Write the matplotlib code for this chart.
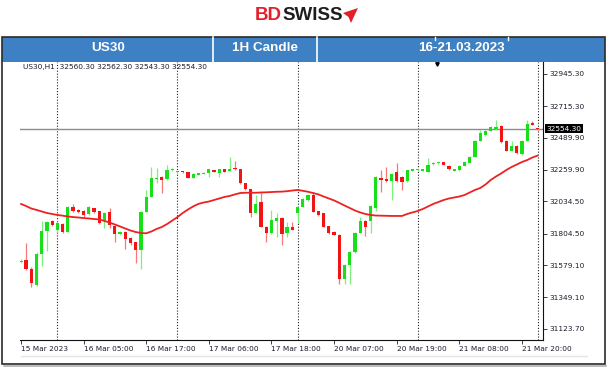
import matplotlib
matplotlib.use("Agg")
import matplotlib.pyplot as plt
from matplotlib.patches import Rectangle, Polygon
from matplotlib.lines import Line2D
import matplotlib.transforms as mtransforms

# ---------------- data ----------------
opens = [31604, 31615, 31554, 31436, 31656, 31822, 31896, 31830, 31872, 31817,
         31996, 31973, 31965, 31942, 31985, 31965, 31896, 31956, 31858, 31801,
         31817, 31772, 31742, 31689, 31960, 32068, 32194, 32211, 32192, 32259,
         32241, 32248, 32242, 32203, 32225, 32228, 32235, 32259, 32235, 32264,
         32252, 32268, 32264, 32164, 32121, 31953, 32028, 31853, 31806, 31896,
         31917, 31806, 31849, 31953, 31996, 32044, 32080, 31965, 31949, 31855,
         31817, 31797, 31476, 31579, 31669, 31808, 31897, 31897, 31987, 32199,
         32194, 32180, 32247, 32211, 32180, 32252, 32257, 32252, 32247, 32299,
         32307, 32314, 32287, 32254, 32259, 32287, 32311, 32354, 32469, 32509,
         32540, 32552, 32573, 32469, 32395, 32433, 32371, 32469, 32593, 32560.3]
highs = [31622, 31735, 31565, 31670, 31896, 31894, 31901, 31894, 31880, 32001,
         32016, 31980, 31973, 31998, 31990, 31969, 31958, 31985, 31862, 31822,
         31822, 31779, 31747, 31965, 32116, 32282, 32271, 32216, 32294, 32276,
         32255, 32252, 32244, 32234, 32237, 32241, 32266, 32262, 32269, 32266,
         32349, 32325, 32266, 32166, 32123, 32080, 32103, 31858, 31973, 31953,
         31922, 31889, 31889, 32001, 32055, 32087, 32101, 31969, 31951, 31858,
         31822, 31801, 31583, 31679, 31812, 31922, 31901, 32005, 32216, 32259,
         32278, 32234, 32307, 32216, 32262, 32266, 32266, 32269, 32342, 32319,
         32319, 32316, 32291, 32266, 32291, 32323, 32359, 32473, 32545, 32545,
         32570, 32616, 32580, 32473, 32469, 32438, 32473, 32616, 32609, 32562.3]
lows = [31597, 31543, 31420, 31429, 31572, 31681, 31858, 31815, 31808, 31815,
        31958, 31951, 31922, 31937, 31951, 31872, 31842, 31842, 31746, 31794,
        31692, 31722, 31591, 31553, 31958, 32066, 32164, 32096, 32187, 32254,
        32230, 32237, 32201, 32201, 32223, 32227, 32209, 32241, 32206, 32244,
        32248, 32259, 32159, 32116, 31920, 31951, 31851, 31746, 31801, 31782,
        31722, 31782, 31826, 31877, 31994, 32040, 31955, 31933, 31851, 31801,
        31794, 31440, 31443, 31443, 31665, 31805, 31787, 31808, 31969, 32103,
        32176, 32044, 32176, 32116, 32176, 32248, 32254, 32248, 32244, 32297,
        32304, 32291, 32261, 32248, 32255, 32284, 32309, 32352, 32466, 32505,
        32538, 32548, 32452, 32391, 32391, 32375, 32368, 32466, 32577, 32543.3]
closes = [31611, 31551, 31448, 31656, 31822, 31889, 31865, 31877, 31817, 31996,
          31968, 31956, 31937, 31992, 31956, 31877, 31953, 31865, 31798, 31817,
          31763, 31733, 31689, 31960, 32068, 32199, 32203, 32187, 32259, 32266,
          32250, 32241, 32203, 32230, 32235, 32237, 32264, 32244, 32266, 32247,
          32266, 32264, 32164, 32121, 31951, 32013, 31853, 31806, 31901, 31917,
          31798, 31853, 31830, 31996, 32049, 32080, 31958, 31937, 31853, 31806,
          31796, 31479, 31579, 31674, 31808, 31897, 31853, 32001, 32209, 32187,
          32180, 32230, 32180, 32175, 32259, 32264, 32264, 32266, 32294, 32311,
          32316, 32294, 32264, 32264, 32287, 32318, 32354, 32469, 32521, 32540,
          32564, 32566, 32457, 32395, 32433, 32378, 32469, 32585, 32580, 32554.3]
ma_values = [32016, 32001, 31983, 31973, 31962, 31951, 31944, 31937, 31932, 31926,
             31922, 31919, 31915, 31912, 31908, 31905, 31894, 31883, 31869, 31855,
             31840, 31826, 31815, 31808, 31806, 31819, 31837, 31851, 31872, 31897,
             31922, 31951, 31976, 31998, 32016, 32026, 32033, 32044, 32055, 32066,
             32073, 32084, 32094, 32096, 32096, 32096, 32098, 32099, 32101, 32103,
             32104, 32107, 32112, 32116, 32110, 32103, 32094, 32084, 32069, 32055,
             32041, 32023, 32005, 31987, 31969, 31955, 31944, 31937, 31933, 31932,
             31931, 31930, 31930, 31930, 31944, 31955, 31965, 31980, 31998, 32016,
             32030, 32044, 32055, 32062, 32069, 32080, 32098, 32116, 32130, 32155,
             32187, 32212, 32234, 32259, 32280, 32298, 32316, 32330, 32348, 32362]

x_tick_bars = [0, 12, 24, 36, 48, 60, 72, 84, 96]
x_tick_labels = ["15 Mar 2023", "16 Mar 05:00", "16 Mar 17:00", "17 Mar 06:00",
                 "17 Mar 18:00", "20 Mar 07:00", "20 Mar 19:00", "21 Mar 08:00",
                 "21 Mar 20:00"]
separator_bars = [7, 30, 53, 76, 99]
y_ticks = [32945.30, 32715.30, 32489.90, 32259.90, 32034.50,
           31804.50, 31579.10, 31349.10, 31123.70]
symbol_info = "US30,H1  32560.30 32562.30 32543.30 32554.30"
header_cells = ["US30", "1H Candle", "16-21.03.2023"]

# ---------------- figure ----------------
W, H = 608, 369
fig = plt.figure(figsize=(W / 100, H / 100), dpi=100)
fig.patch.set_facecolor("white")

def fx(x):
    return x / W

def fy(y):
    return 1 - y / H

# logo
fig.text(fx(255), fy(16), "BD", color="#e3202a", fontsize=13.5, fontweight="bold",
         family="Liberation Sans", ha="left", va="center")
fig.text(fx(282), fy(16), "SWISS", color="#1e1e1e", fontsize=13.5, fontweight="bold",
         family="Liberation Sans", ha="left", va="center")
fig.patches.append(Polygon([(fx(343), fy(13)), (fx(358), fy(8)), (fx(351), fy(23)),
                            (fx(348.5), fy(17))], closed=True, transform=fig.transFigure,
                           facecolor="#e3202a", edgecolor="none"))

# header bar
fig.patches.append(Rectangle((fx(2), fy(62)), 603 / W, 25 / H, transform=fig.transFigure,
                             facecolor="#3d80c3", edgecolor="none"))
for xd in (213, 317):
    fig.lines.append(Line2D([fx(xd), fx(xd)], [fy(37), fy(62)], transform=fig.transFigure,
                            color="white", lw=1.2))
for xd in (435, 508):
    fig.lines.append(Line2D([fx(xd), fx(xd)], [fy(37), fy(40)], transform=fig.transFigure,
                            color="white", lw=1.0))
for xc, t in zip((108, 265, 461), header_cells):
    fig.text(fx(xc), fy(48), t, color="white", fontsize=9.7, fontweight="bold",
             family="Liberation Sans", ha="center", va="center")

# outer frame
fig.patches.append(Rectangle((fx(2), fy(364)), 603 / W, 327 / H, transform=fig.transFigure,
                             fill=False, edgecolor="#2a2a2a", lw=1.2))
fig.lines.append(Line2D([fx(4), fx(606)], [fy(366), fy(366)], transform=fig.transFigure,
                        color="#b0b0b0", lw=1.2))
fig.lines.append(Line2D([fx(21), fx(587)], [fy(356), fy(356)], transform=fig.transFigure,
                        color="#e4e4e4", lw=1.0))

# ---------------- chart ----------------
ax = fig.add_axes([fx(20), fy(340), 523 / W, 278 / H])
ax.set_facecolor("white")
n = len(closes)
xs = list(range(n))
up_col, dn_col = "#18e018", "#f21414"
cols = [up_col if c >= o else dn_col for o, c in zip(opens, closes)]
wick_cols = ["#7bf07b" if c >= o else "#f77a7a" for o, c in zip(opens, closes)]

for s in separator_bars:
    ax.axvline(s, color="#222222", lw=0.8, ls=(0, (1, 1.6)), zorder=1)
ax.axhline(closes[-1], color="#8c8c8c", lw=1.0, zorder=1)

ax.vlines(xs, lows, highs, colors=wick_cols, lw=0.9, zorder=2)
bottoms = [min(o, c) for o, c in zip(opens, closes)]
heights = [max(abs(c - o), 7) for o, c in zip(opens, closes)]
ax.bar(xs, heights, bottom=bottoms, width=0.62, color=cols, linewidth=0, zorder=3)

ax.plot(xs, ma_values, color="#ec2222", lw=1.3, zorder=4, solid_capstyle="round")

ax.set_xlim(-0.17, 100.02)
ax.set_ylim(31042.8, 33031.1)

for side in ("top", "left"):
    ax.spines[side].set_visible(False)
for side in ("right", "bottom"):
    ax.spines[side].set_color("#111111")
    ax.spines[side].set_linewidth(0.8)

ax.yaxis.tick_right()
ax.set_yticks(y_ticks)
ax.set_yticklabels([f"{v:.2f}" for v in y_ticks])
ax.set_xticks(x_tick_bars)
ax.set_xticklabels(x_tick_labels)
for lab in ax.get_xticklabels():
    lab.set_ha("left")
ax.tick_params(axis="both", length=3, width=0.6, color="#222222", pad=1.5,
               labelsize=5.3, labelcolor="#1c1c2e")

ax.text(0.005, 0.982, symbol_info, transform=ax.transAxes, fontsize=5.3,
        color="#1c1c2e", ha="left", va="center")
ax.plot([0.797], [0.993], marker="v", ms=2.5, color="black", transform=ax.transAxes,
        clip_on=False)

trans = mtransforms.blended_transform_factory(ax.transAxes, ax.transData)
ax.text(1.006, closes[-1], f"{closes[-1]:.2f}", transform=trans, fontsize=5.3,
        color="white", ha="left", va="center",
        bbox=dict(boxstyle="square,pad=0.2", facecolor="black", edgecolor="none"))

fig.savefig("out.png", dpi=100, facecolor="white")
